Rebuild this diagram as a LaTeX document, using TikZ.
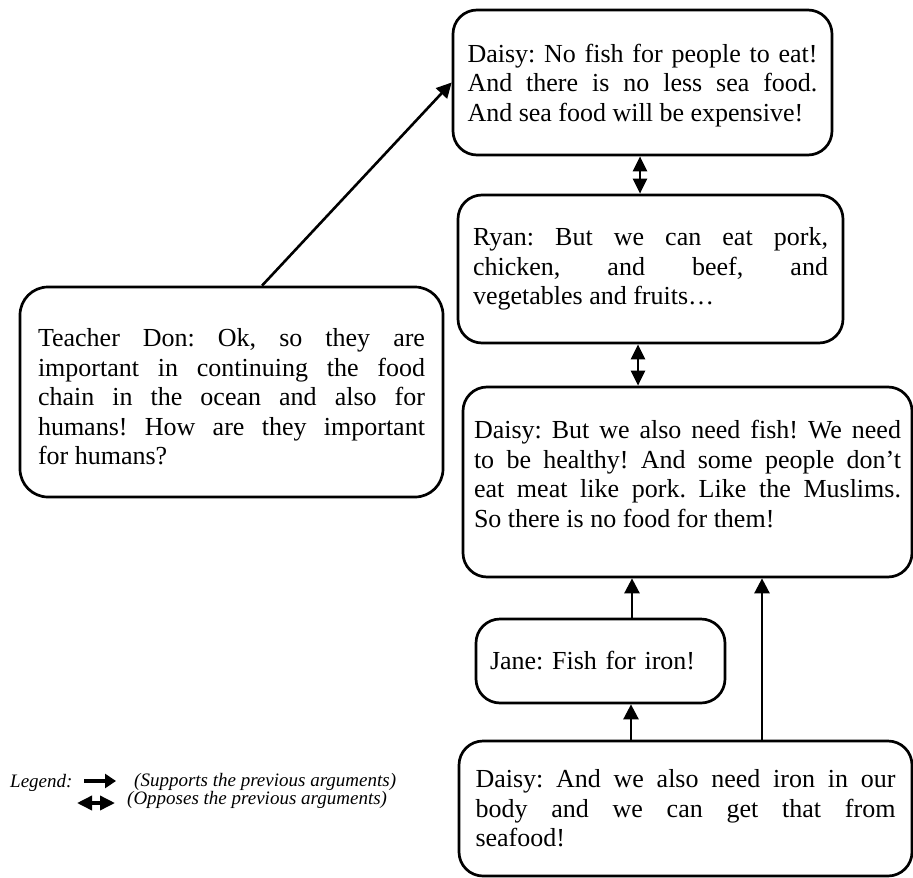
\documentclass[tikz,border=0pt]{standalone}
\usepackage{fontspec}
\setmainfont{Liberation Serif}
\usetikzlibrary{arrows.meta}

\frenchspacing
\newcommand{\boxfont}{\fontsize{26}{29.5}\selectfont\frenchspacing\hyphenpenalty=10000\tolerance=10000}
\newcommand{\legendfont}{\fontsize{19}{22}\selectfont\itshape}
% struts that move a paragraph down (top) or up (bottom) inside its box
\newcommand{\topgap}[1]{\rule{0pt}{#1}}
\newcommand{\bottomgap}[1]{\rule[-#1]{0pt}{#1}}

\tikzset{
  argbox/.style={draw, line width=2.7pt, rounded corners=24pt, align=justify,
    inner xsep=0pt, inner ysep=0pt, font=\boxfont},
  link/.style={line width=2.6pt, -{Triangle[length=15pt,width=15pt]}},
  clash/.style={line width=2.6pt, {Triangle[length=15pt,width=14pt]}-{Triangle[length=15pt,width=14pt]}},
  legendtext/.style={anchor=west, inner sep=0pt, font=\legendfont},
}

\begin{document}
\begin{tikzpicture}[x=1pt, y=-1pt]
\useasboundingbox (0,0) rectangle (913,878);

% argument boxes
\node[argbox, text width=350pt, minimum width=379pt, minimum height=145pt] (d1) at (642.5,82.5)
  {\topgap{24pt}Daisy: No fish for people to eat!\linebreak And there is no less sea food.\linebreak And sea food will be expensive!};

\node[argbox, text width=355pt, minimum width=385pt, minimum height=148pt] (ryan) at (650.5,269)
  {Ryan: But we can eat pork,\linebreak chicken, and beef, and\linebreak vegetables and fruits…};

\node[argbox, text width=427pt, minimum width=449pt, minimum height=190pt] (d2) at (687.5,482)
  {Daisy: But we also need fish! We need\linebreak to be healthy! And some people don’t\linebreak eat meat like pork. Like the Muslims.\linebreak So there is no food for them!\bottomgap{16pt}};

\node[argbox, align=left, text width=221pt, minimum width=249pt, minimum height=84pt] (jane) at (600.5,661)
  {Jane: Fish for iron!};

\node[argbox, text width=420pt, minimum width=453pt, minimum height=135pt] (d3) at (685.5,808.5)
  {Daisy: And we also need iron in our\linebreak body and we can get that from\linebreak seafood!};

\node[argbox, rounded corners=28pt, text width=387pt, minimum width=423pt, minimum height=210pt] (don) at (231.5,392)
  {\topgap{28pt}Teacher Don: Ok, so they are\linebreak important in continuing the food\linebreak chain in the ocean and also for\linebreak humans! How are they important\linebreak for humans?};

% connectors
\draw[link] ([xshift=30.5pt]don.north) -- (d1.west);
\draw[clash] ([xshift=-2.5pt]d1.south) -- ([xshift=-2.5pt]d1.south |- ryan.north);
\draw[clash] ([xshift=-12.5pt]ryan.south) -- ([xshift=-12.5pt]ryan.south |- d2.north);
\draw[link] ([xshift=31.5pt]jane.north) -- ([xshift=31.5pt]jane.north |- d2.south);
\draw[link] ([xshift=-54.5pt]d3.north) -- ([xshift=-54.5pt]d3.north |- jane.south);
\draw[link] ([xshift=76.5pt]d3.north) -- ([xshift=76.5pt]d3.north |- d2.south);

% legend
\node[legendtext] (legend) at (10,783) {Legend:};
\node[legendtext] (supports) at (134,782) {(Supports the previous arguments)};
\node[legendtext] (opposes) at (127,800) {(Opposes the previous arguments)};
\coordinate (sa) at (84,781);
\coordinate (sb) at (116,781);
\coordinate (oa) at (77,803);
\coordinate (ob) at (115,803);
\draw[line width=3.5pt, -{Triangle[length=11pt,width=14pt]}] (sa) -- (sb);
\draw[line width=3.5pt, {Triangle[length=15pt,width=14pt]}-{Triangle[length=15pt,width=14pt]}] (oa) -- (ob);
\end{tikzpicture}
\end{document}
